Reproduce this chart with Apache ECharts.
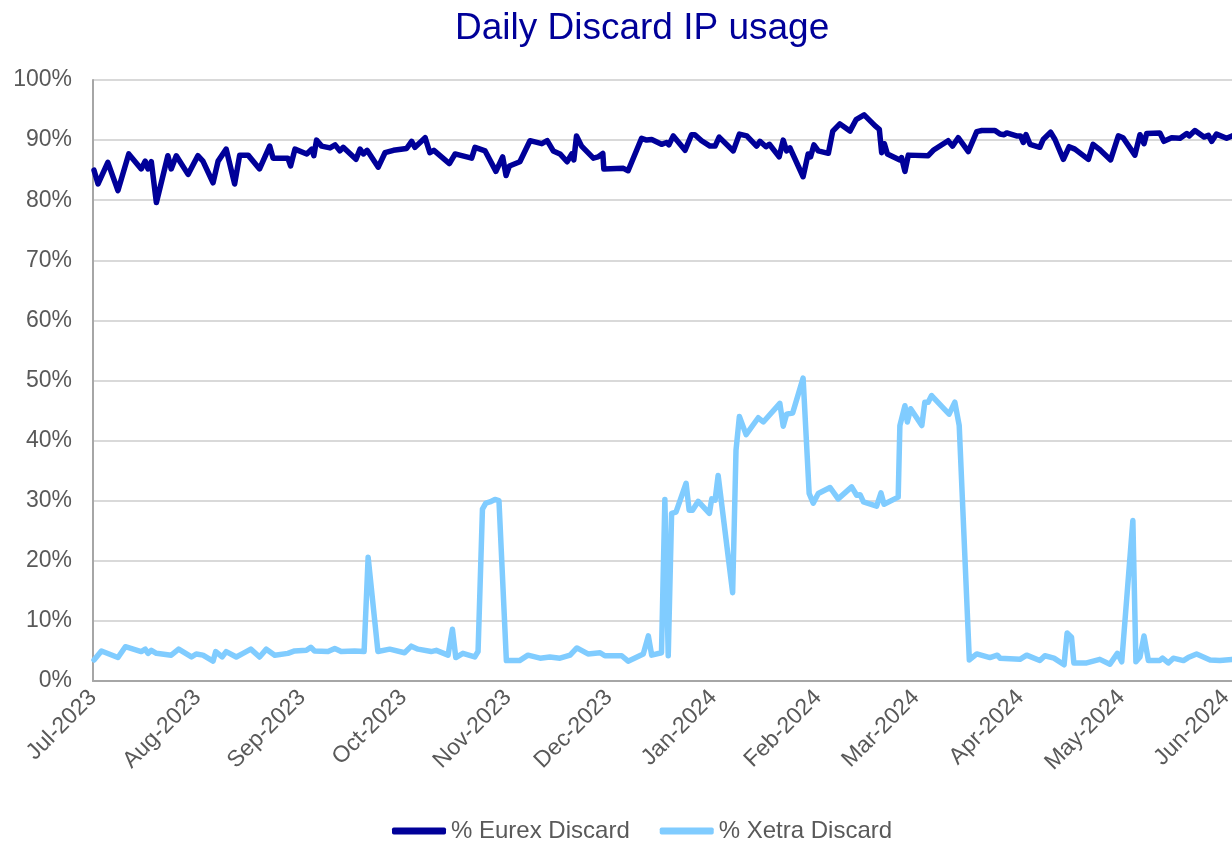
<!DOCTYPE html>
<html>
<head>
<meta charset="utf-8">
<title>Daily Discard IP usage</title>
<script src="https://cdn.jsdelivr.net/npm/echarts@6/dist/echarts.min.js"></script>
<style>
  html, body { margin: 0; padding: 0; background: #fff; }
  #chart { width: 1232px; height: 841px; }
</style>
</head>
<body>
<div id="chart"></div>
<script>
// x values are days since 1 Jul 2023
var monthStart = [0, 31, 62, 92, 123, 153, 184, 215, 244, 275, 305, 336];
var monthLabels = ['Jul-2023', 'Aug-2023', 'Sep-2023', 'Oct-2023', 'Nov-2023', 'Dec-2023',
  'Jan-2024', 'Feb-2024', 'Mar-2024', 'Apr-2024', 'May-2024', 'Jun-2024'];

var eurexDay = [
  0.3, 1.5, 4.4, 7.4, 10.6, 14.3, 15.5, 16.3, 17.3, 18.8,
  22.2, 23.2, 24.7, 28.2, 31.1, 32.6, 35.6, 37.1, 39.5, 42.0,
  43.5, 46.0, 49.4, 52.4, 53.4, 57.8, 58.6, 59.9, 63.4, 64.9,
  65.5, 66.3, 67.8, 70.3, 71.8, 73.2, 74.2, 78.0, 79.2, 80.2,
  81.3, 84.6, 86.6, 89.1, 93.0, 94.5, 95.5, 98.5, 99.9, 101.1,
  105.7, 107.4, 108.8, 112.3, 113.3, 116.3, 119.5, 121.5, 122.5, 123.5,
  126.6, 129.6, 133.1, 134.7, 136.5, 138.5, 140.6, 142.0, 142.6, 143.4,
  144.9, 148.4, 149.8, 151.2, 151.5, 157.3, 158.7, 162.7, 164.2, 165.7,
  168.6, 170.1, 170.8, 172.1, 175.6, 177.5, 178.5, 180.5, 183.0, 184.5,
  185.7, 189.9, 191.7, 193.9, 196.8, 197.8, 199.6, 200.6, 203.5, 204.7,
  205.7, 206.7, 210.6, 212.1, 212.8, 213.8, 215.1, 218.1, 219.4, 221.5,
  224.5, 226.3, 228.7, 231.9, 233.2, 233.9, 234.7, 235.6, 239.3, 239.8,
  240.8, 241.8, 247.7, 249.2, 253.6, 254.9, 256.6, 259.6, 262.1, 263.6,
  267.5, 269.0, 270.2, 271.0, 273.9, 275.1, 275.9, 276.7, 277.9, 280.8,
  281.8, 284.0, 285.3, 287.8, 289.5, 291.2, 295.2, 296.6, 298.4, 301.8,
  304.1, 305.5, 309.0, 310.5, 311.7, 312.5, 316.4, 317.6, 319.9, 322.4,
  324.4, 325.1, 326.8, 329.5, 330.8, 331.8, 333.2, 336.2, 337.8
];
var eurexPct = [
  85.0, 82.7, 86.3, 81.6, 87.7, 85.2, 86.5, 85.2, 86.4, 79.6,
  87.4, 85.2, 87.4, 84.3, 87.4, 86.5, 82.9, 86.5, 88.5, 82.7,
  87.5, 87.5, 85.2, 89.0, 87.0, 87.0, 85.7, 88.5, 87.7, 88.5,
  87.4, 90.0, 89.0, 88.7, 89.2, 88.2, 88.8, 86.8, 88.5, 87.7,
  88.3, 85.5, 87.9, 88.3, 88.6, 89.8, 88.8, 90.4, 87.9, 88.3,
  86.1, 87.7, 87.5, 87.0, 88.8, 88.2, 84.8, 87.2, 84.1, 85.7,
  86.4, 89.9, 89.4, 89.9, 88.2, 87.7, 86.4, 87.7, 86.7, 90.7,
  89.0, 87.0, 87.2, 87.8, 85.2, 85.3, 84.9, 90.3, 90.0, 90.1,
  89.3, 89.6, 89.2, 90.7, 88.3, 90.9, 90.9, 89.9, 89.0, 89.0,
  90.5, 88.2, 91.0, 90.7, 89.0, 89.8, 88.9, 89.3, 87.2, 90.0,
  88.2, 88.7, 83.9, 87.7, 87.2, 89.2, 88.2, 87.8, 91.5, 92.7,
  91.5, 93.4, 94.2, 92.4, 91.8, 87.9, 89.4, 87.7, 86.7, 87.1,
  84.8, 87.5, 87.4, 88.3, 89.9, 89.0, 90.4, 88.1, 91.4, 91.6,
  91.6, 91.0, 90.9, 91.2, 90.7, 90.7, 89.6, 90.9, 89.3, 88.8,
  90.1, 91.3, 90.1, 86.8, 88.9, 88.5, 86.8, 89.3, 88.5, 86.7,
  90.7, 90.4, 87.5, 90.9, 89.4, 91.1, 91.2, 89.8, 90.4, 90.3,
  91.1, 90.7, 91.6, 90.5, 90.8, 89.8, 91.0, 90.3, 90.7
];

var xetraDay = [
  0.3, 2.5, 7.4, 9.6, 14.3, 15.5, 16.3, 17.3, 18.8, 23.2,
  25.4, 29.2, 30.6, 32.6, 35.6, 36.4, 38.3, 39.5, 42.5, 44.5,
  46.8, 49.4, 51.4, 53.9, 57.8, 59.8, 63.3, 64.6, 65.7, 69.7,
  71.7, 73.6, 77.6, 80.4, 81.6, 84.5, 88.0, 92.4, 94.4, 96.4,
  100.3, 101.8, 105.3, 106.6, 107.6, 109.7, 113.2, 114.2, 115.5, 116.5,
  117.7, 119.2, 120.4, 122.6, 126.5, 129.0, 132.6, 135.5, 138.5, 141.5,
  143.5, 146.8, 150.4, 151.8, 156.8, 158.7, 163.2, 164.7, 165.7, 168.6,
  169.6, 170.6, 171.6, 172.9, 175.9, 176.8, 177.8, 179.5, 182.8, 183.5,
  184.5, 185.4, 189.7, 190.7, 191.7, 193.7, 197.3, 198.8, 203.7, 204.7,
  205.7, 207.5, 210.6, 212.4, 213.6, 215.1, 218.6, 221.0, 225.0, 226.5,
  227.5, 228.5, 232.4, 233.7, 234.6, 238.8, 239.3, 240.8, 241.5, 242.5,
  245.8, 246.7, 247.7, 248.7, 253.9, 255.6, 256.9, 259.9, 262.1, 266.0,
  268.2, 269.0, 274.9, 276.9, 280.8, 282.3, 285.0, 288.0, 288.9, 290.2,
  290.9, 294.7, 298.6, 301.6, 303.8, 305.1, 308.4, 309.3, 310.5, 311.7,
  313.0, 316.4, 317.2, 318.9, 320.4, 323.4, 324.8, 327.3, 331.3, 334.2, 337.8
];
var xetraPct = [
  3.5, 5.0, 3.9, 5.7, 4.9, 5.3, 4.6, 5.1, 4.6, 4.3,
  5.3, 4.0, 4.5, 4.3, 3.3, 4.9, 4.0, 4.9, 4.0, 4.6,
  5.3, 4.0, 5.3, 4.3, 4.6, 5.0, 5.1, 5.6, 5.0, 4.9,
  5.4, 4.9, 5.0, 4.9, 20.6, 4.9, 5.3, 4.7, 5.8, 5.3,
  4.9, 5.1, 4.3, 8.6, 3.9, 4.6, 4.0, 4.9, 28.6, 29.6,
  29.8, 30.2, 30.0, 3.4, 3.4, 4.3, 3.8, 4.0, 3.8, 4.3,
  5.5, 4.5, 4.7, 4.2, 4.2, 3.3, 4.5, 7.5, 4.3, 4.7,
  30.2, 4.2, 27.9, 28.1, 32.9, 28.4, 28.4, 29.9, 27.9, 30.3,
  30.1, 34.2, 14.7, 38.4, 44.0, 41.0, 43.8, 43.1, 46.2, 42.4,
  44.4, 44.6, 50.4, 31.2, 29.6, 31.2, 32.2, 30.3, 32.3, 30.9,
  31.0, 29.8, 29.1, 31.3, 29.4, 30.6, 42.5, 45.8, 43.1, 45.3,
  42.5, 46.4, 46.4, 47.5, 44.4, 46.4, 42.5, 3.5, 4.5, 3.9,
  4.3, 3.8, 3.6, 4.3, 3.4, 4.2, 3.8, 2.7, 8.0, 7.3,
  3.0, 3.0, 3.6, 2.8, 4.6, 3.2, 26.7, 3.2, 4.0, 7.5,
  3.4, 3.4, 3.8, 3.0, 3.8, 3.4, 3.9, 4.5, 3.5, 3.4, 3.6
];

function pairs(xs, ys) {
  return xs.map(function (x, i) { return [x, ys[i]]; });
}

var font = 'Liberation Sans, Arial, sans-serif';
var chart = echarts.init(document.getElementById('chart'));
chart.setOption({
  animation: false,
  backgroundColor: '#fff',
  title: {
    text: 'Daily Discard IP usage',
    left: 450,
    top: 5,
    textStyle: { color: '#000099', fontSize: 37, fontWeight: 'normal', fontFamily: font }
  },
  legend: {
    left: 387,
    top: 814,
    icon: 'roundRect',
    itemWidth: 54,
    itemHeight: 7,
    itemGap: 30,
    textStyle: { color: '#595959', fontSize: 24, fontFamily: font },
    data: ['% Eurex Discard', '% Xetra Discard']
  },
  grid: { left: 93, right: 0, top: 80, bottom: 160, outerBoundsMode: 'none' },
  xAxis: {
    type: 'value',
    min: 0,
    max: 337.8,
    splitLine: { show: false },
    axisTick: { show: false },
    axisLine: { show: true, lineStyle: { color: '#a6a6a6', width: 2 } },
    axisLabel: {
      customValues: monthStart,
      rotate: 45,
      margin: 13,
      color: '#595959',
      fontSize: 23,
      fontFamily: font,
      formatter: function (v) {
        var i = monthStart.indexOf(Math.round(v));
        return i >= 0 ? monthLabels[i] : '';
      }
    }
  },
  yAxis: {
    type: 'value',
    min: 0,
    max: 100,
    interval: 10,
    axisLine: { show: true, lineStyle: { color: '#a6a6a6', width: 2 } },
    axisTick: { show: false },
    splitLine: { lineStyle: { color: '#d9d9d9', width: 2 } },
    axisLabel: { formatter: '{value}%', color: '#595959', fontSize: 23, fontFamily: font, margin: 21 }
  },
  series: [
    {
      name: '% Eurex Discard',
      type: 'line',
      showSymbol: false,
      data: pairs(eurexDay, eurexPct),
      itemStyle: { color: '#000099' },
      lineStyle: { color: '#000099', width: 5.5, cap: 'round', join: 'round' }
    },
    {
      name: '% Xetra Discard',
      type: 'line',
      showSymbol: false,
      data: pairs(xetraDay, xetraPct),
      itemStyle: { color: '#80ccff' },
      lineStyle: { color: '#80ccff', width: 5.5, cap: 'round', join: 'round' }
    }
  ]
});
</script>
</body>
</html>
